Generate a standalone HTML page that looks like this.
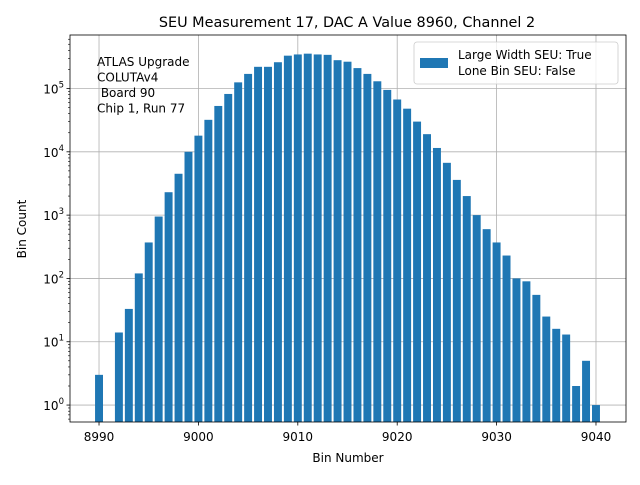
<!DOCTYPE html>
<html><head><meta charset="utf-8"><style>
body{margin:0;background:#fff;font-family:"Liberation Sans","DejaVu Sans",sans-serif}
</style></head><body>
<svg id="c" width="640" height="480" xmlns="http://www.w3.org/2000/svg" font-family="DejaVu Sans, Liberation Sans, sans-serif">
<rect width="640" height="480" fill="#fff"/>
<g id="grid"></g><g id="bars"></g><g id="axes"></g>
</svg>
<script>
const bins=[8990,8992,8993,8994,8995,8996,8997,8998,8999,9000,9001,9002,9003,9004,9005,9006,9007,9008,9009,9010,9011,9012,9013,9014,9015,9016,9017,9018,9019,9020,9021,9022,9023,9024,9025,9026,9027,9028,9029,9030,9031,9032,9033,9034,9035,9036,9037,9038,9039,9040];
const counts=[3,14,33,120,370,950,2300,4500,10000,18000,32000,53000,82000,125000,170000,220000,220000,260000,330000,345000,355000,345000,340000,280000,265000,210000,170000,130000,95000,67000,48000,30000,19000,11500,6700,3600,2000,1000,600,370,230,100,90,55,25,16,13,2,5,1];
const xTicks=[8990,9000,9010,9020,9030,9040];
const yTicks=[0,1,2,3,4,5];
const L=70,R=626,T=35,B=422;
const x0=8987.08,x1=9043.02,ly0=Math.log10(0.54),ly1=5.845;
const sx=v=>L+(v-x0)/(x1-x0)*(R-L);
const sy=v=>B-(Math.log10(v)-ly0)/(ly1-ly0)*(B-T);
const NS="http://www.w3.org/2000/svg";
function mk(p,t,a){const e=document.createElementNS(NS,t);for(const k in a)e.setAttribute(k,a[k]);p.appendChild(e);return e;}
const g=document.getElementById('grid'),gb=document.getElementById('bars'),ga=document.getElementById('axes');
xTicks.forEach(v=>{const l=mk(g,'line',{x1:sx(v),x2:sx(v),y1:T,y2:B,stroke:'#b0b0b0','stroke-width':0.8});
});
yTicks.forEach(v=>{const l=mk(g,'line',{x1:L,x2:R,y1:sy(Math.pow(10,v)),y2:sy(Math.pow(10,v)),stroke:'#b0b0b0','stroke-width':0.8});
});
bins.forEach((b,i)=>{const xl=sx(b-0.4),xr=sx(b+0.4),yt=sy(counts[i]);
const r=mk(gb,'rect',{x:xl,y:yt,width:xr-xl,height:B-yt,fill:'#1f77b4'});
});
const f=mk(ga,'rect',{x:L,y:T,width:R-L,height:B-T,fill:'none',stroke:'#000','stroke-width':0.8});

xTicks.forEach(v=>{mk(ga,'line',{x1:sx(v),x2:sx(v),y1:B,y2:B+3.5,stroke:'#000','stroke-width':0.8});
const t=mk(ga,'text',{x:sx(v),y:B+19,'text-anchor':'middle','font-size':12});t.textContent=v;
});
yTicks.forEach(v=>{const y=sy(Math.pow(10,v));mk(ga,'line',{x1:L-3.5,x2:L,y1:y,y2:y,stroke:'#000','stroke-width':0.8});
const t=mk(ga,'text',{x:L-6,y:y+5,'text-anchor':'end','font-size':12});
t.appendChild(document.createTextNode('10'));const s=mk(t,'tspan',{dy:-6,'font-size':8.5});s.textContent=v;
});
for(let d=-1;d<6;d++)for(let m=2;m<10;m++){const v=m*Math.pow(10,d);const y=sy(v);if(y<T||y>B)continue;
mk(ga,'line',{x1:L-2,x2:L,y1:y,y2:y,stroke:'#000','stroke-width':0.6});}
function txt(x,y,s,a){const t=mk(ga,'text',Object.assign({x:x,y:y},a));t.textContent=s;return t;}
let t;
t=txt(347,27,'SEU Measurement 17, DAC A Value 8960, Channel 2',{'text-anchor':'middle','font-size':14.4});
t=txt(348,462,'Bin Number',{'text-anchor':'middle','font-size':12});
t=txt(26,229,'Bin Count',{'text-anchor':'middle','font-size':12,transform:'rotate(-90 26 229)'});
['ATLAS Upgrade','COLUTAv4','\u00a0Board 90','Chip 1, Run 77'].forEach((s,i)=>{t=txt(97,66+i*15.5,s,{'font-size':12});
});
const lg=mk(ga,'g',{});
mk(lg,'rect',{x:414,y:42,width:204,height:42,rx:3,fill:'#fff','fill-opacity':0.8,stroke:'#ccc','stroke-width':0.8});
mk(lg,'rect',{x:420,y:58,width:28,height:10,fill:'#1f77b4'});
t=mk(lg,'text',{x:458,y:59,'font-size':12});t.textContent='Large Width SEU: True';
t=mk(lg,'text',{x:458,y:75,'font-size':12});t.textContent='Lone Bin SEU: False';
</script>
</body></html>
